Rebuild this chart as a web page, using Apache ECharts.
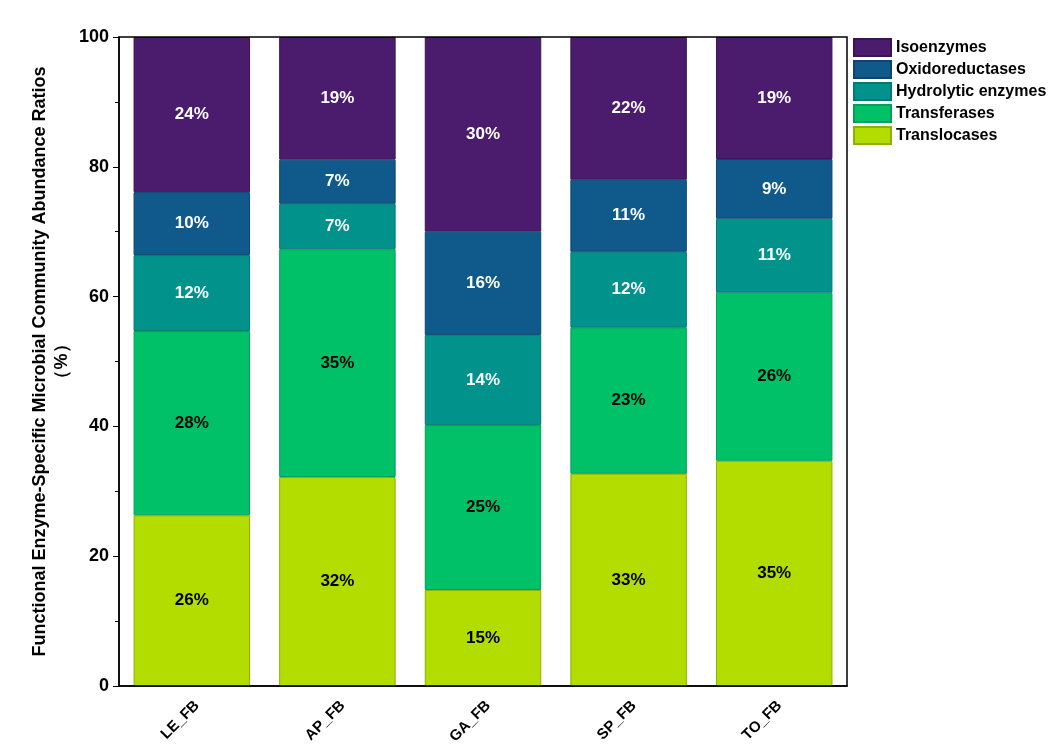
<!DOCTYPE html>
<html>
<head>
<meta charset="utf-8">
<title>Enzyme abundance</title>
<script src="https://cdn.jsdelivr.net/npm/echarts@6/dist/echarts.min.js"></script>
<style>
  html, body { margin: 0; padding: 0; background: #fff; }
  #main { width: 1057px; height: 750px; }
</style>
</head>
<body>
<div id="main"></div>
<script>
// sample groups
var groups = ['LE_FB', 'AP_FB', 'GA_FB', 'SP_FB', 'TO_FB'];

// values in %, stacked from bottom to top
var translocases = [26.3, 32.2, 14.8, 32.7, 34.7];
var transferases = [28.4, 35.1, 25.4, 22.5, 25.9];
var hydrolytic   = [11.7, 7.0, 13.9, 11.7, 11.4];
var oxido        = [9.7, 6.8, 15.9, 11.1, 9.2];
var isoenzymes   = [23.9, 18.9, 30.0, 22.0, 18.8];

var legendOrder = ['Isoenzymes', 'Oxidoreductases', 'Hydrolytic enzymes', 'Transferases', 'Translocases'];

var myChart = echarts.init(document.getElementById('main'));

function mk(name, data, color, border, labelColor) {
    return {
        name: name,
        type: 'bar',
        stack: 'all',
        barWidth: '80%',
        data: data,
        itemStyle: { color: color, borderColor: border, borderWidth: 1 },
        label: {
            show: true,
            position: 'inside',
            formatter: function (p) { return Math.round(p.value) + '%'; },
            color: labelColor,
            fontFamily: 'Liberation Sans, Arial',
            fontWeight: 'bold',
            fontSize: 17
        }
    };
}

var option = {
    backgroundColor: '#fff',
    animation: false,
    grid: { left: 119, right: 210, top: 37, bottom: 64, containLabel: false },
    legend: {
        data: legendOrder,
        orient: 'vertical',
        left: 848,
        top: 33,
        padding: 5,
        itemWidth: 37,
        itemHeight: 17,
        itemGap: 3,
        icon: 'rect',
        textStyle: { fontFamily: 'Liberation Sans, Arial', fontWeight: 'bold', fontSize: 16, color: '#000', lineHeight: 18 }
    },
    xAxis: {
        type: 'category',
        data: groups,
        axisLine: { lineStyle: { color: '#000', width: 1.5 } },
        axisTick: { show: false },
        axisLabel: {
            rotate: 45,
            margin: 12,
            verticalAlign: 'top',
            color: '#000',
            fontFamily: 'Liberation Sans, Arial',
            fontWeight: 'bold',
            fontSize: 15
        }
    },
    yAxis: {
        type: 'value',
        min: 0,
        max: 100,
        interval: 20,
        name: 'Functional Enzyme-Specific Microbial Community Abundance Ratios\n（%）',
        nameLocation: 'middle',
        nameGap: 46,
        nameMoveOverlap: false,
        nameTextStyle: { fontFamily: 'Liberation Sans, Arial', fontWeight: 'bold', fontSize: 18, color: '#000', lineHeight: 22 },
        axisLine: { show: true, lineStyle: { color: '#000', width: 1.5 } },
        axisTick: { show: true, length: 6, lineStyle: { color: '#000' } },
        minorTick: { show: true, splitNumber: 2, length: 4, lineStyle: { color: '#000' } },
        splitLine: { show: false },
        axisLabel: {
            margin: 10,
            color: '#000',
            fontFamily: 'Liberation Sans, Arial',
            fontWeight: 'bold',
            fontSize: 18
        }
    },
    series: [
        mk('Translocases', translocases, '#b3dc00', '#8fb000', '#000'),
        mk('Transferases', transferases, '#00c068', '#00a058', '#000'),
        mk('Hydrolytic enzymes', hydrolytic, '#01928b', '#017a74', '#fff'),
        mk('Oxidoreductases', oxido, '#0f5a8b', '#0a4670', '#fff'),
        mk('Isoenzymes', isoenzymes, '#4b1c6e', '#3a1456', '#fff')
    ],
    graphic: [
        {
            type: 'rect',
            shape: { x: 119, y: 37, width: 728, height: 649 },
            style: { fill: 'none', stroke: '#000', lineWidth: 1.5 },
            silent: true,
            z: 100
        }
    ]
};

myChart.setOption(option);
</script>
</body>
</html>
